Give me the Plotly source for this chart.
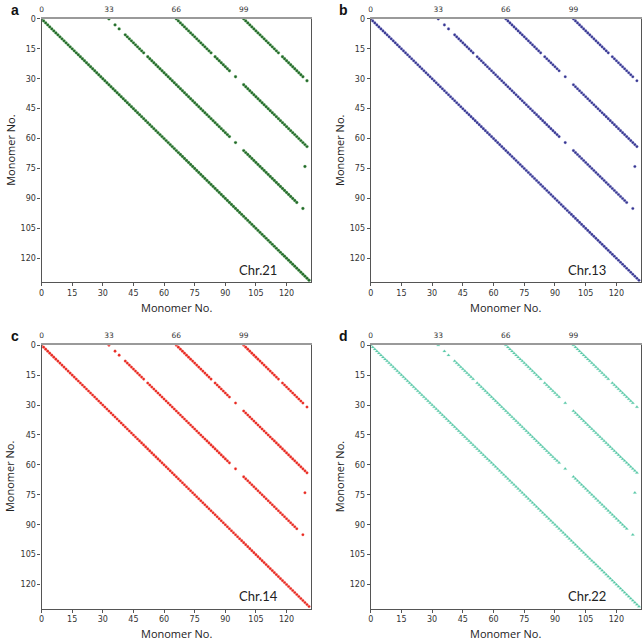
import plotly.graph_objects as go

W, H = 642, 641

# ---- data (identical structure in all four panels) ----
# Each diagonal: points (x, x - offset); runs give the inclusive x-ranges where dots exist.
diag_offsets = [0, 33, 66, 99]
runs_main = [(0, 131)]
runs_33 = [(33, 33), (36, 36), (38, 38), (41, 50), (52, 92), (95, 95), (99, 125), (128, 128)]
runs_66 = [(66, 83), (85, 92), (95, 95), (99, 130)]
runs_99 = [(99, 116), (118, 128), (130, 130)]
runs_by_offset = [runs_main, runs_33, runs_66, runs_99]
extra_x = [129]
extra_y = [74]

panel_letters = ["a", "b", "c", "d"]
chr_names = ["Chr.21", "Chr.13", "Chr.14", "Chr.22"]
top_ticks = [0, 33, 66, 99]
bottom_ticks = [0, 15, 30, 45, 60, 75, 90, 105, 120]
left_ticks = [0, 15, 30, 45, 60, 75, 90, 105, 120]

colors = ["#23672a", "#36368f", "#e8261f", "#4fc4a2"]
edge_colors = ["#6cb86c", "#6a6ac0", "#f36a60", "#8fdcc4"]
symbols = ["circle", "circle", "circle", "triangle-up"]
sizes = [2.9, 2.6, 2.6, 3.0]


def build_points(runs_list, offsets):
    xs, ys = [], []
    for off, runs in zip(offsets, runs_list):
        for a, b in runs:
            for x in range(a, b + 1):
                xs.append(x)
                ys.append(x - off)
    return xs, ys


px, py = build_points(runs_by_offset, diag_offsets)
px = px + extra_x
py = py + extra_y

# layout geometry (pixels)
x_doms_px = [(38.8, 310.0), (370.0, 642.0)]
y_doms_px = [(15.0, 280.0), (343.3, 608.3)]

fig = go.Figure()
layout = dict(
    width=W, height=H, margin=dict(l=0, r=0, t=0, b=0),
    paper_bgcolor="white", plot_bgcolor="white", showlegend=False,
)
annotations = []
tick_font = dict(family="DejaVu Sans", size=8, color="#333333")
title_font = dict(family="Open Sans", size=11, color="#222222")

for i in range(4):
    col = i % 2
    row = i // 2
    x0, x1 = x_doms_px[col]
    y0, y1 = y_doms_px[row]
    xd = [x0 / W, min(x1 / W, 1.0)]
    yd = [1 - y1 / H, 1 - y0 / H]
    n = i + 1
    xa = "x" if n == 1 else f"x{n}"
    ya = "y" if n == 1 else f"y{n}"
    xt = f"x{n + 4}"
    fig.add_trace(go.Scatter(
        x=px, y=py, mode="markers", xaxis=xa, yaxis=ya,
        marker=dict(color=colors[i], size=sizes[i], symbol=symbols[i],
                    line=dict(color=edge_colors[i], width=0.3)),
        hoverinfo="skip",
    ))
    # invisible trace to host the top overlay axis
    fig.add_trace(go.Scatter(
        x=[px[0]], y=[py[0]], mode="markers", xaxis=xt, yaxis=ya,
        marker=dict(opacity=0), hoverinfo="skip",
    ))
    xkey = "xaxis" if n == 1 else f"xaxis{n}"
    ykey = "yaxis" if n == 1 else f"yaxis{n}"
    layout[xkey] = dict(
        domain=xd, anchor=ya, range=[0, 132], tickvals=bottom_ticks,
        ticks="outside", ticklen=3, tickcolor="#555555", tickwidth=1,
        showline=True, linecolor="#555555", linewidth=1.2, mirror=False,
        showgrid=False, zeroline=False, tickfont=tick_font,
    )
    layout[f"xaxis{n + 4}"] = dict(
        domain=xd, anchor=ya, overlaying=xa, side="top", range=[0, 132],
        tickvals=top_ticks, ticks="", ticklabelstandoff=2,
        showline=True, linecolor="#9a9a9a", linewidth=1.6,
        showgrid=False, zeroline=False,
        tickfont=dict(family="DejaVu Sans", size=7.5, color="#333333"),
    )
    layout[ykey] = dict(
        domain=yd, anchor=xa, range=[132, 0], tickvals=left_ticks,
        ticks="outside", ticklen=3, tickcolor="#555555", tickwidth=1,
        showline=True, linecolor="#555555", linewidth=1.2, mirror=True,
        showgrid=False, zeroline=False, tickfont=tick_font,
    )
    # x title
    annotations.append(dict(
        text="Monomer No.", xref="paper", yref="paper",
        x=(x0 + min(x1, 642)) / 2 / W, y=1 - (y1 + 25) / H,
        showarrow=False, font=title_font, xanchor="center", yanchor="middle",
    ))
    # y title
    annotations.append(dict(
        text="Monomer No.", xref="paper", yref="paper", textangle=-90,
        x=(x0 - 31.5) / W, y=1 - (y0 + y1) / 2 / H,
        showarrow=False, font=title_font, xanchor="center", yanchor="middle",
    ))
    # panel letter
    annotations.append(dict(
        text=f"<b>{panel_letters[i]}</b>", xref="paper", yref="paper",
        x=(x0 - 27) / W, y=1 - (y0 - 9) / H,
        showarrow=False, font=dict(family="Liberation Sans", size=14, color="#111111"),
        xanchor="center", yanchor="middle",
    ))
    # chromosome label
    annotations.append(dict(
        text=chr_names[i], xref="paper", yref="paper",
        x=(x0 + 218) / W, y=1 - (y1 - 12.5) / H,
        showarrow=False, font=dict(family="Lato", size=13, color="#222222"),
        xanchor="center", yanchor="middle",
    ))

layout["annotations"] = annotations
fig.update_layout(**layout)
fig.write_html(
    "out.html",
    config={"displayModeBar": False},
    post_script=(
        "document.body.style.margin='0';document.body.style.padding='0';"
        "document.body.style.overflow='hidden';"
        "document.documentElement.style.overflow='hidden';"
    ),
)
